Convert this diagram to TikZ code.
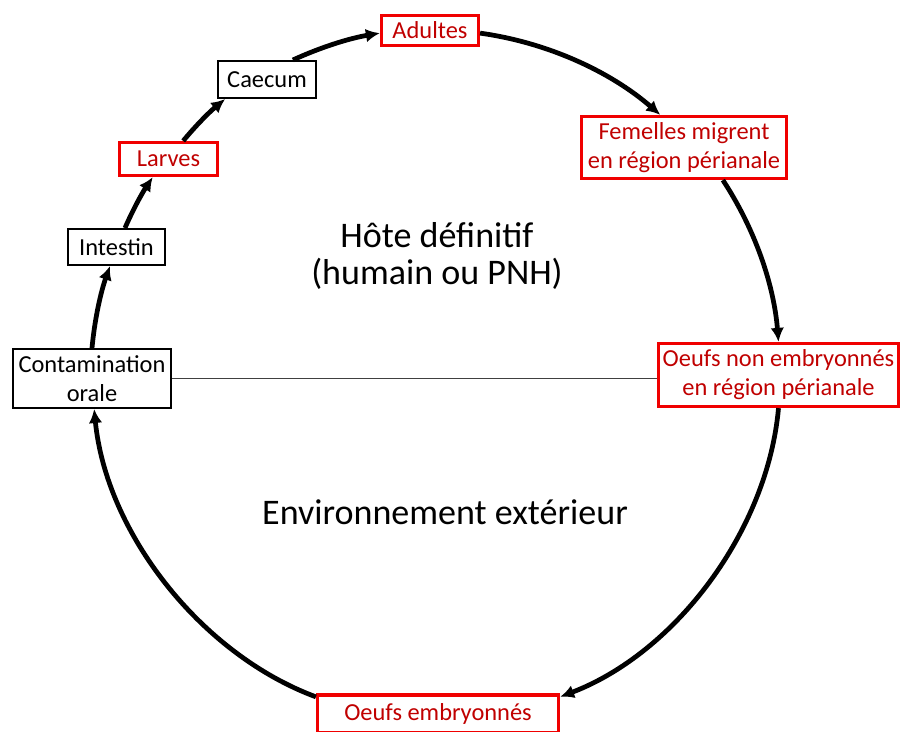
\documentclass[tikz,border=0pt]{standalone}
\usepackage{fontspec}
\setmainfont{Carlito}
\usetikzlibrary{arrows.meta}
\definecolor{boxred}{RGB}{240,0,0}
\definecolor{txtred}{RGB}{192,0,0}

\begin{document}
\begin{tikzpicture}[x=0.02cm, y=-0.02cm,
  stage/.style    = {draw=black, line width=0.04cm, inner sep=0pt, align=center,
                     font=\fontsize{13.9}{16.5}\selectfont},
  redstage/.style = {stage, draw=boxred, text=txtred, line width=0.065cm},
  cyc/.style      = {-{Latex[length=2.8mm,width=2.7mm]}, line width=0.095cm, looseness=0.87},
  zone/.style     = {font=\fontsize{20.5}{21.6}\selectfont, align=center},
]
\useasboundingbox (0,0) rectangle (902,731);

% stades du cycle
\node[stage, minimum width=3.16cm, minimum height=1.18cm]    (contam)   at (92,378.5) {Contamination\\orale};
\node[stage, minimum width=1.94cm, minimum height=0.72cm]    (intestin) at (116.5,247) {Intestin};
\node[redstage, minimum width=1.96cm, minimum height=0.66cm] (larves)   at (168.5,159) {Larves};
\node[stage, minimum width=1.96cm, minimum height=0.74cm]    (caecum)   at (267,79.5) {Caecum};
\node[redstage, minimum width=1.94cm, minimum height=0.60cm] (adultes)  at (430,30.5) {Adultes};
\node[redstage, minimum width=4.10cm, minimum height=1.24cm] (femelles) at (684,147.5) {Femelles migrent\\en région périanale};
\node[redstage, minimum width=4.80cm, minimum height=1.26cm] (oeufsnon) at (778.5,375) {Oeufs non embryonnés\\en région périanale};
\node[redstage, minimum width=4.82cm, minimum height=0.76cm] (oeufsemb) at (438,714) {Oeufs embryonnés};

\node[zone] (hote) at (437,256) {Hôte définitif\\(humain ou PNH)};
\node[zone, anchor=base] (env) at (445,524) {Environnement extérieur};

\draw[line width=0.6pt, black!75] (contam.east) -- (contam.east -| oeufsnon.west);

% fleches
\draw[cyc] (contam.north)  to[bend left=7]    (intestin.-109);
\draw[cyc] (intestin.66)   to[bend left=5]    (larves.-131);
\draw[cyc] (larves.51)     to[bend left=5.5]  (caecum.-155);
\draw[cyc] (caecum.37)     to[bend left=7.5]  (adultes.-177);
\draw[cyc] (adultes.-3)    to[bend left=16.5] (femelles.126);
\draw[cyc] (femelles.-40)  to[bend left=14.3] (oeufsnon.north);
\draw[cyc] (oeufsnon.south) to[bend left=32]  (oeufsemb.8);
\draw[cyc] (oeufsemb.172) to[bend left=32]  (contam.-86);

\end{tikzpicture}
\end{document}
